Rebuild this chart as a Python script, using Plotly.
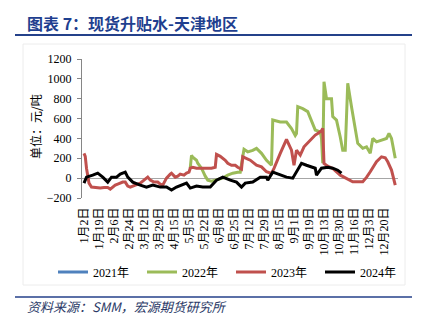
import plotly.graph_objects as go

# ---------------- data ----------------
tick_labels = ["1月2日", "1月19日", "2月6日", "2月24日", "3月12日", "3月29日", "4月15日",
               "5月5日", "5月22日", "6月8日", "6月25日", "7月12日", "7月29日", "8月15日",
               "9月1日", "9月19日", "10月13日", "10月30日", "11月16日", "12月3日", "12月20日"]
tick_step = 12  # trading days between labels

# trading-day index / value (元/吨)
idx_2021 = [None]
val_2021 = [None]

idx_2022 = [85, 86, 87, 90, 91, 94, 97, 99, 102, 106, 109, 111, 115, 119, 123, 125, 126, 128,
            131, 135, 138, 142, 146, 150, 151, 157, 162, 166, 169, 170, 171, 175, 179, 182,
            185, 189, 190, 191, 192, 194, 198, 199, 202, 205, 207, 209, 211, 214, 217, 219,
            223, 226, 229, 231, 234, 238, 242, 244, 246, 249]
val_2022 = [100, 230, 210, 180, 150, 100, 20, -20, -30, -20, -10, 0, 30, 50, 60, 60, 140, 290,
            265, 280, 300, 250, 180, 130, 585, 565, 565, 500, 430, 450, 720, 700, 670, 585,
            485, 465, 400, 150, 970, 800, 800, 620, 585, 415, 280, 280, 955, 720, 515, 350,
            300, 315, 250, 400, 365, 380, 400, 450, 400, 200]

idx_2023 = [0, 1, 2, 4, 6, 10, 13, 16, 19, 21, 23, 25, 27, 29, 31, 33, 35, 37, 39, 42, 45, 48,
            51, 53, 56, 59, 61, 63, 66, 69, 70, 73, 75, 77, 80, 82, 84, 85, 87, 90, 94, 98,
            102, 105, 106, 109, 113, 115, 118, 121, 123, 126, 127, 133, 138, 142, 146, 150,
            152, 157, 162, 166, 168, 170, 173, 176, 181, 185, 187, 190, 191, 192, 195, 199,
            205, 210, 215, 223, 226, 229, 234, 238, 241, 243, 246, 249]
val_2023 = [250, 220, 100, -50, -90, -95, -100, -95, -95, -110, -90, -70, -60, -50, -40, -40,
            -80, -90, -80, -60, -50, -20, 10, -20, -40, -40, -60, -70, 0, 40, 50, 10, 20, 40,
            30, 50, 60, 100, 110, 100, 100, 95, 100, 110, 240, 220, 180, 150, 130, 130, 110,
            90, 215, 181, 131, 114, 64, 47, 98, 249, 390, 282, 131, 282, 232, 316, 383, 434,
            450, 477, 501, 148, 121, 98, 30, -3, -37, -37, 7, 64, 165, 215, 205, 165, 81, -71]

idx_2024 = [0, 2, 7, 11, 15, 19, 22, 26, 29, 33, 35, 39, 45, 50, 55, 61, 66, 70, 74, 78, 82,
            85, 90, 95, 101, 106, 111, 117, 122, 126, 129, 135, 141, 146, 147, 151, 157, 162,
            167, 170, 174, 178, 182, 185, 186, 190, 195, 199, 203, 206]
val_2024 = [-50, 10, 30, 50, 10, -40, 10, 10, 40, 60, 10, -40, -70, -90, -70, -90, -90, -120,
            -90, -70, -50, -100, -80, -90, -90, -20, 10, -20, -40, -90, -50, -40, 10, 10, -20,
            60, 30, 10, 0, 60, 150, 130, 110, 100, 30, 100, 110, 100, 80, 50]

series = [("2021年", idx_2021, val_2021, "#4f81bd"),
          ("2022年", idx_2022, val_2022, "#9bbb59"),
          ("2023年", idx_2023, val_2023, "#c0504d"),
          ("2024年", idx_2024, val_2024, "#000000")]

title_text = "图表 7：现货升贴水-天津地区"
source_text = "资料来源：SMM，宏源期货研究所"
ylabel_text = "单位：元/吨"

# ---------------- figure ----------------
W, H = 426, 323
L, R, T, B = 82, 398, 59, 198   # plot area in pixels
pw, ph = R - L, B - T

def px(x):
    return (x - L) / pw

def py(y):
    return (B - y) / ph

fig = go.Figure()
for name, xs, ys, col in series:
    fig.add_trace(go.Scatter(x=xs, y=ys, mode="lines", name=name, showlegend=True,
                             line=dict(color=col, width=3)))

serif = "Liberation Serif, Noto Sans CJK SC, serif"
cjk = "Noto Sans CJK SC, sans-serif"

fig.update_layout(
    width=W, height=H,
    margin=dict(l=L, r=W - R, t=T, b=H - B),
    paper_bgcolor="white", plot_bgcolor="white",
    showlegend=True,
    legend=dict(orientation="h", x=px(53), xanchor="left", y=py(272), yanchor="middle",
                font=dict(family=serif, size=12, color="black"),
                entrywidth=44, entrywidthmode="pixels", itemwidth=30,
                bgcolor="rgba(0,0,0,0)", tracegroupgap=0),
    xaxis=dict(range=[-1.6, 251.2], tickmode="array",
               tickvals=[i * tick_step for i in range(len(tick_labels))],
               ticktext=tick_labels, tickangle=-90, showgrid=False, showline=False,
               zeroline=False, ticks="", ticklabelstandoff=6,
               tickfont=dict(family=serif, size=12, color="black")),
    yaxis=dict(range=[-200, 1200], dtick=200, showgrid=False, showline=True,
               linecolor="#868686", linewidth=1, ticks="outside", ticklen=4,
               tickcolor="#868686", zeroline=True, zerolinecolor="#a6a6a6",
               zerolinewidth=1, ticklabelstandoff=3,
               tickfont=dict(family=serif, size=12, color="black")),
)

# title, rules, frame
fig.add_annotation(text=title_text, xref="paper", yref="paper", x=px(25), y=py(23),
                   xanchor="left", yanchor="middle", showarrow=False,
                   font=dict(family=cjk, size=16, color="#1f3f8f", weight="bold"))
fig.add_shape(type="line", xref="paper", yref="paper", x0=px(15), x1=px(412),
              y0=py(35), y1=py(35), line=dict(color="#24418a", width=2))
fig.add_shape(type="line", xref="paper", yref="paper", x0=px(15), x1=px(412),
              y0=py(297), y1=py(297), line=dict(color="#24418a", width=1.5))
fig.add_shape(type="rect", xref="paper", yref="paper", x0=px(23), x1=px(405),
              y0=py(285), y1=py(44), line=dict(color="#ececec", width=1), layer="below")
fig.add_annotation(text=ylabel_text, xref="paper", yref="paper", x=px(35), y=py(127),
                   xanchor="center", yanchor="middle", textangle=-90, showarrow=False,
                   font=dict(family=cjk, size=12, color="black"))
fig.add_annotation(text=source_text, xref="paper", yref="paper", x=px(25), y=py(306),
                   xanchor="left", yanchor="middle", showarrow=False,
                   font=dict(family=cjk, size=13, color="#2b3a67", style="italic"))

fig.write_html("out.html")
